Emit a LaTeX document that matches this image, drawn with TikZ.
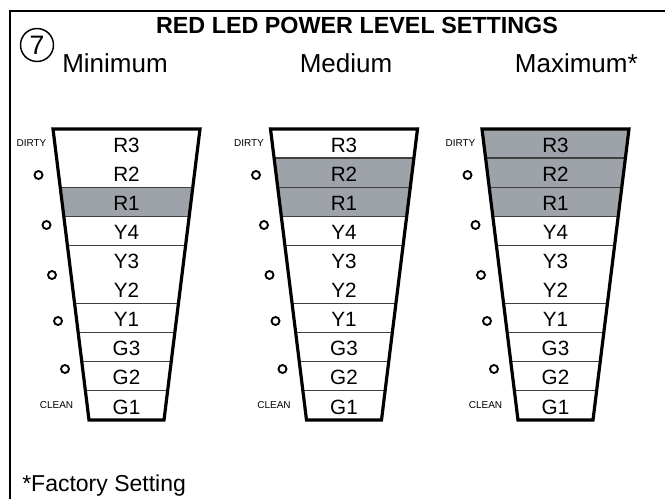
\documentclass[tikz,border=0pt]{standalone}
\usepackage{fontspec}
\setmainfont{Liberation Sans}
\definecolor{ledgray}{RGB}{158,163,169}
\begin{document}
\begin{tikzpicture}[x=0.75pt,y=-0.75pt,
  frame/.style={line width=1.5pt},
  funnel/.style={line width=2.4pt, line join=miter},
  divider/.style={line width=0.9pt, draw=black!75},
  lit/.style={fill=ledgray},
  led/.style={line width=1.4pt},
  rowlabel/.style={font=\fontsize{15.5}{16}\selectfont, inner sep=0pt},
  tag/.style={font=\fontsize{7.5}{8}\selectfont, inner sep=0pt},
  heading/.style={font=\fontsize{19.5}{22}\selectfont, anchor=base, inner sep=0pt}]
\useasboundingbox (0,0) rectangle (665,499);

% open frame: left and top sides only
\draw[frame] (10,499) -- (10,11) -- (665,11);

% step number and headings
\node[draw, circle, line width=1.1pt, minimum size=33pt*0.75, inner sep=0pt,
      font=\fontsize{20}{22}\selectfont] (stepnum) at (37,45) {7};
\node[font=\bfseries\fontsize{17.5}{20}\selectfont, anchor=base, inner sep=0pt]
      (title) at (357,34) {RED LED POWER LEVEL SETTINGS};
\node[heading, anchor=base west] (hmin) at (62,73) {Minimum};
\node[heading] (hmed) at (346,73) {Medium};
\node[heading, anchor=base east] (hmax) at (638,73) {Maximum*};
\node[font=\fontsize{17.25}{19}\selectfont, anchor=base west, inner sep=0pt]
      (note) at (22,491) {*Factory Setting};

% three funnels: centre x, number of lit red rows, name
\foreach \cx/\nlit/\nm in {126.5/1/min, 344/2/med, 555.5/3/max}{
  % lit rows (R1 upwards)
  \pgfmathsetmacro{\yt}{129+(3-\nlit)*29.1}
  \pgfmathsetmacro{\yb}{129+3*29.1}
  \pgfmathsetmacro{\xlt}{\cx-73.5+36*(\yt-129)/291}
  \pgfmathsetmacro{\xrt}{\cx+73.5-36*(\yt-129)/291}
  \pgfmathsetmacro{\xlb}{\cx-73.5+36*(\yb-129)/291}
  \pgfmathsetmacro{\xrb}{\cx+73.5-36*(\yb-129)/291}
  \fill[lit] (\xlt,\yt) -- (\xrt,\yt) -- (\xrb,\yb) -- (\xlb,\yb) -- cycle;
  % row dividers
  \ifnum\nlit>1
    \pgfmathsetmacro{\yd}{129+29.1}
    \pgfmathsetmacro{\xl}{\cx-73.5+36*(\yd-129)/291}
    \pgfmathsetmacro{\xr}{\cx+73.5-36*(\yd-129)/291}
    \draw[divider] (\xl,\yd) -- (\xr,\yd);
  \fi
  \foreach \k in {2,3,4,6,7,8,9}{
    \pgfmathsetmacro{\yd}{129+\k*29.1}
    \pgfmathsetmacro{\xl}{\cx-73.5+36*(\yd-129)/291}
    \pgfmathsetmacro{\xr}{\cx+73.5-36*(\yd-129)/291}
    \draw[divider] (\xl,\yd) -- (\xr,\yd);
  }
  % funnel outline
  \draw[funnel] (\cx-73.5,129) -- (\cx+73.5,129) -- (\cx+37.5,420)
                -- (\cx-37.5,420) -- cycle;
  % row labels
  \foreach \t [count=\i] in {R3,R2,R1,Y4,Y3,Y2,Y1,G3,G2,G1}{
    \node[rowlabel] (\nm-\t) at (\cx,{129+(\i-0.5)*29.1+1.5}) {\t};
  }
  % indicator lamps
  \foreach \dx/\ly in {-88/175, -80/225, -74.5/275, -68.5/321, -61.5/369}{
    \draw[led] (\cx+\dx,\ly) circle[radius=3pt];
  }
  \node[tag] (\nm-dirty) at (\cx-95,143) {DIRTY};
  \node[tag] (\nm-clean) at (\cx-70,405) {CLEAN};
}
\end{tikzpicture}
\end{document}
